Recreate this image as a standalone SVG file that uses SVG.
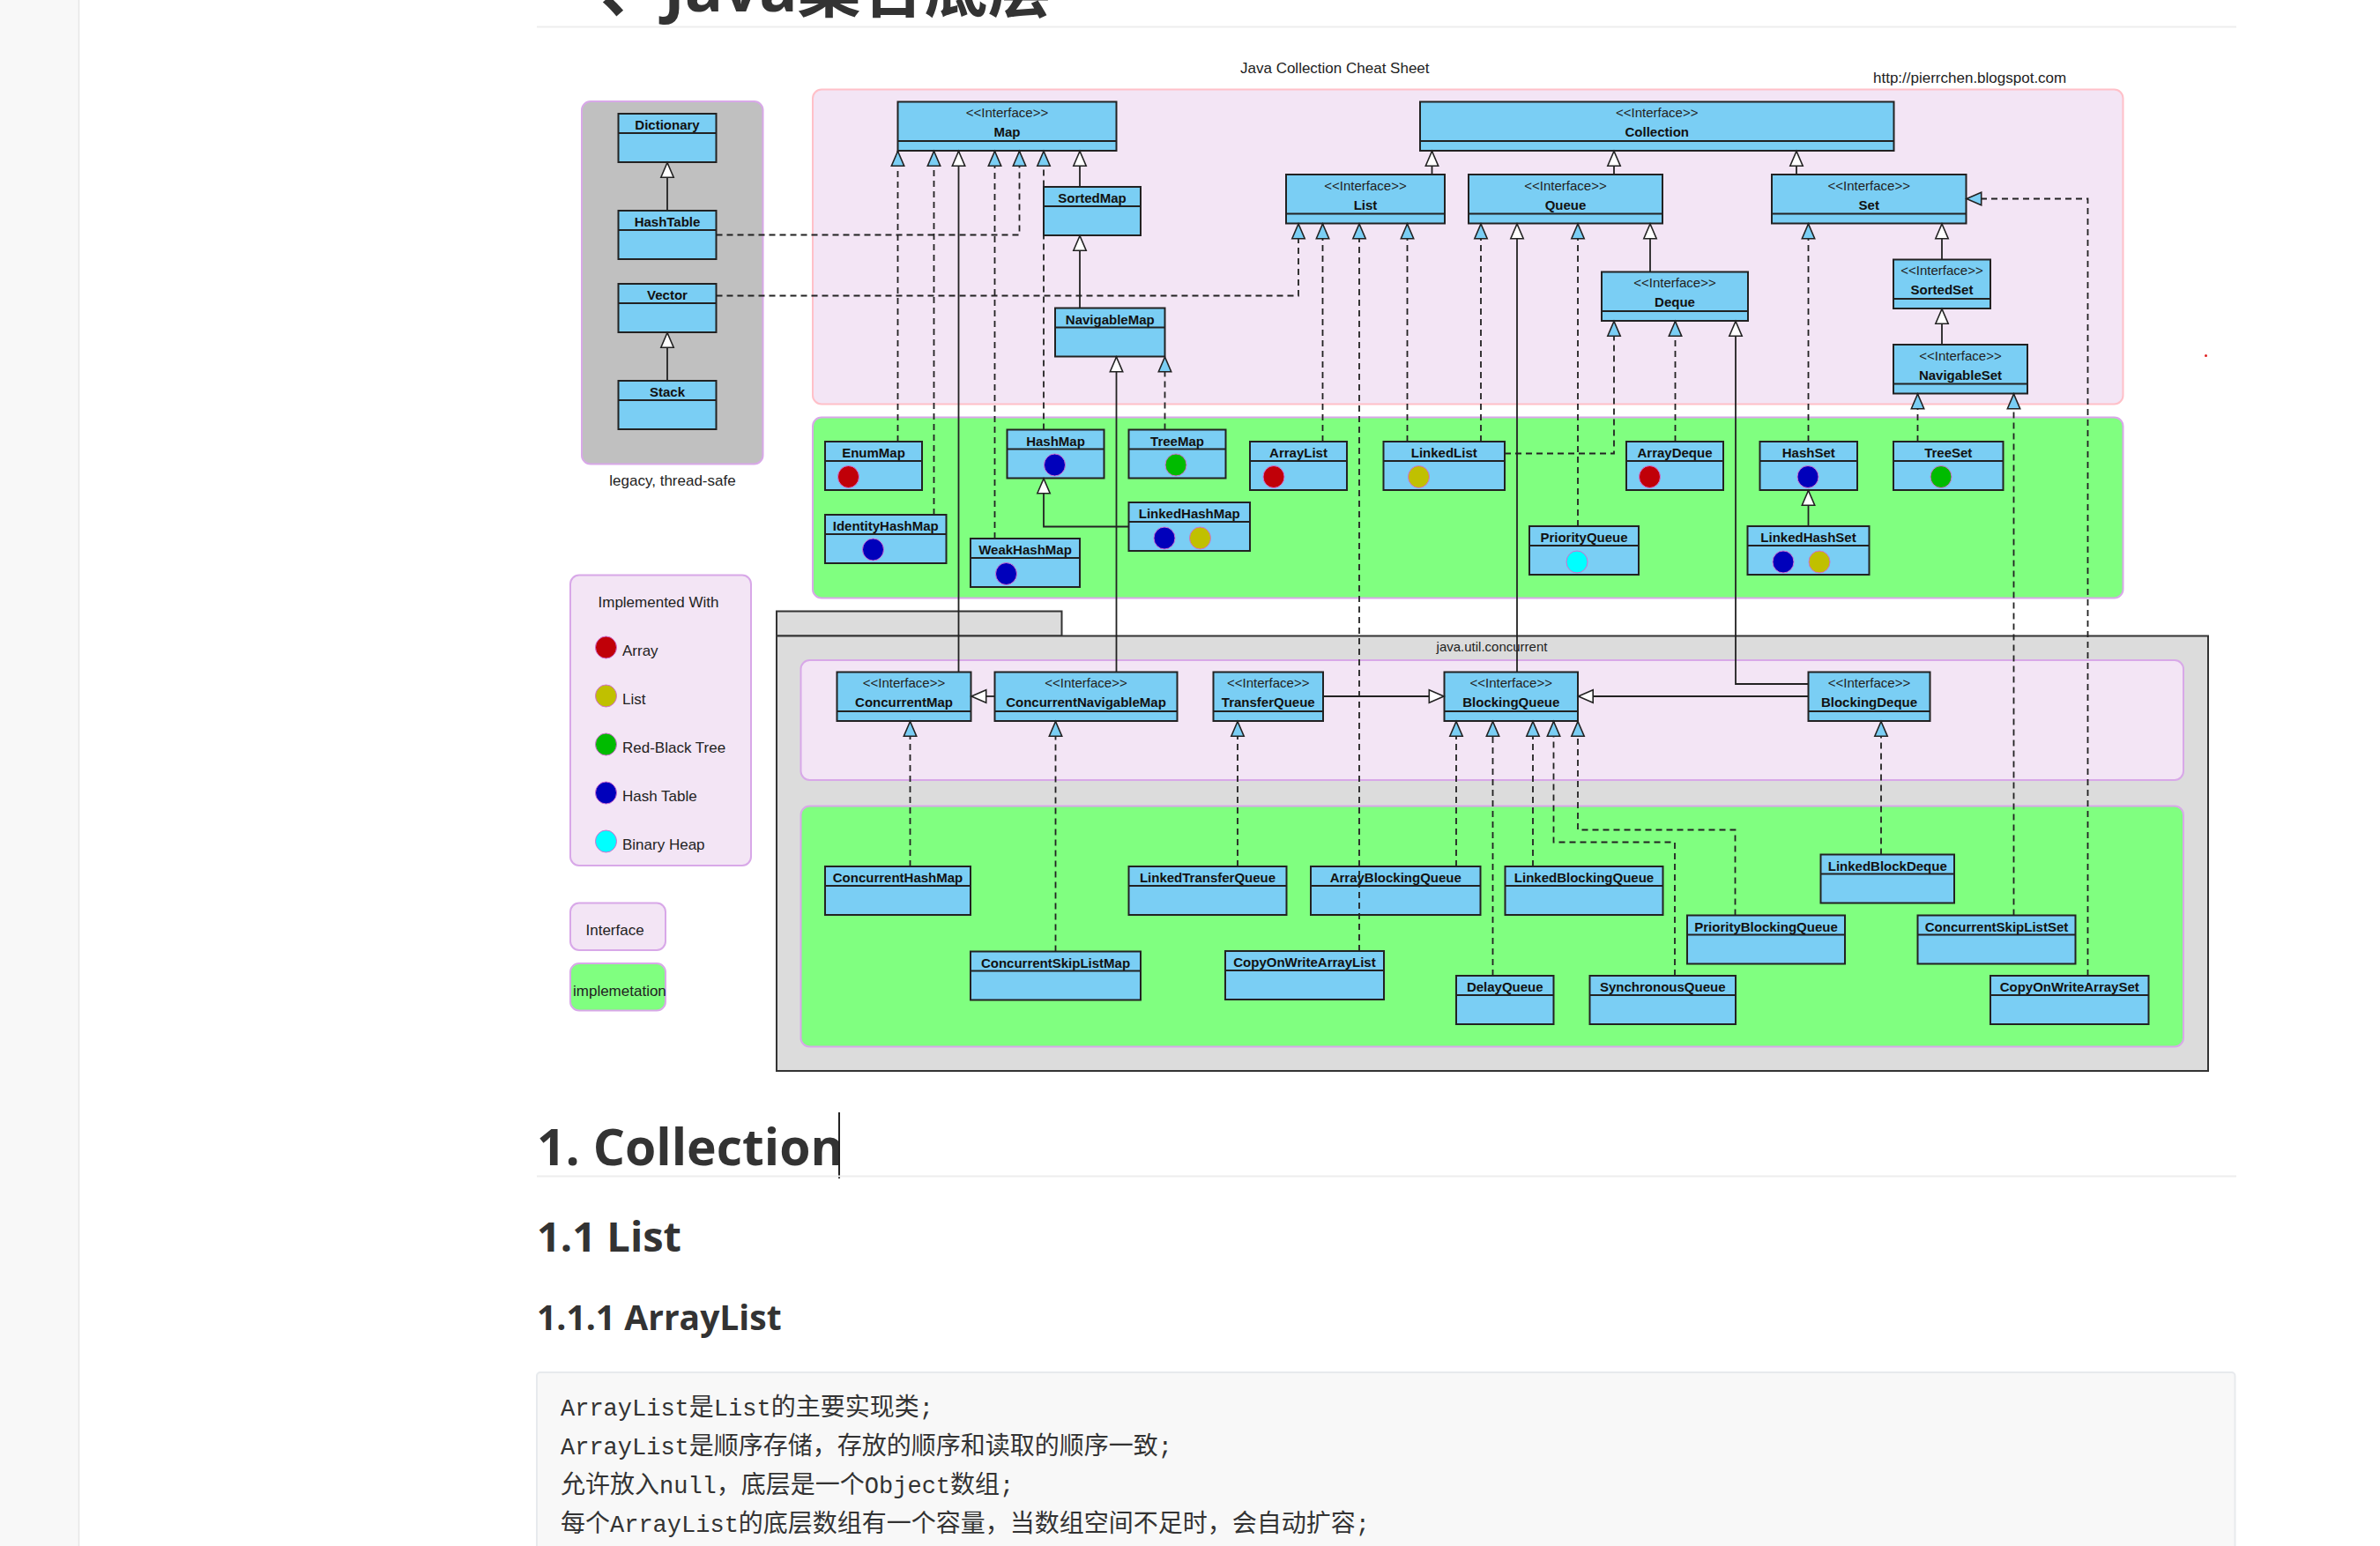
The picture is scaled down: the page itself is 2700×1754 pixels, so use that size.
<svg xmlns="http://www.w3.org/2000/svg" width="2700" height="1754" viewBox="0 0 2700 1754">
<defs>
<style>
.box{fill:#7acef4;stroke:#222;stroke-width:2}
.dv{stroke:#222;stroke-width:2}
.st{font-family:'Liberation Sans',Arial,sans-serif;font-size:15px;fill:#222;text-anchor:middle}
.nm{font-family:'Liberation Sans',Arial,sans-serif;font-size:15px;font-weight:bold;fill:#111;text-anchor:middle}
.lb{font-family:'Liberation Sans',Arial,sans-serif;font-size:17px;fill:#222}
.c{fill:none;stroke:#222;stroke-width:1.8}
.d{stroke-dasharray:7 5}
.dot{stroke:#d070d0;stroke-width:1}
.red{fill:#c00008}.yel{fill:#c0c000}.grn{fill:#00bb00}.blu{fill:#0000bb}.cyn{fill:#00ffff}
.h{font-family:'Open Sans','Noto Sans CJK SC',sans-serif;font-weight:bold;fill:#333}
.code{font-family:'Liberation Mono','Noto Sans CJK SC',monospace;font-size:27px;fill:#333}
.cj{font-family:'Noto Sans CJK SC',sans-serif;font-size:28px}
.iface{fill:#f3e5f5;stroke:#d8a8e8;stroke-width:2}
.impl{fill:#80ff80;stroke:#d8a8e8;stroke-width:2}
</style>
<marker id="mB" viewBox="0 0 18 16" refX="18" refY="8" markerWidth="18" markerHeight="16" markerUnits="userSpaceOnUse" orient="auto" overflow="visible">
<path d="M0.8,0.8 L17.5,8 L0.8,15.2 Z" fill="#7acef4" stroke="#222" stroke-width="1.6"/>
</marker>
<marker id="mW" viewBox="0 0 18 16" refX="18" refY="8" markerWidth="18" markerHeight="16" markerUnits="userSpaceOnUse" orient="auto" overflow="visible">
<path d="M0.8,0.8 L17.5,8 L0.8,15.2 Z" fill="#fff" stroke="#222" stroke-width="1.6"/>
</marker>
</defs>

<rect x="0" y="0" width="2700" height="1754" fill="#fff"/>
<g id="page">
<rect x="0" y="0" width="89" height="1754" fill="#f8f8f8"/>
<line x1="89.5" y1="0" x2="89.5" y2="1754" stroke="#e6e6e6" stroke-width="1.5"/>
<text class="h" x="681" y="13" font-size="72">、Java集合底层</text>
<line x1="609" y1="30.5" x2="2537" y2="30.5" stroke="#eee" stroke-width="2"/>
<text class="h" x="609" y="1322" font-size="57">1. Collection</text>
<line x1="952" y1="1262" x2="952" y2="1337" stroke="#222" stroke-width="2"/>
<line x1="609" y1="1334.5" x2="2537" y2="1334.5" stroke="#eee" stroke-width="2"/>
<text class="h" x="609" y="1420" font-size="47">1.1 List</text>
<text class="h" x="609" y="1509" font-size="39">1.1.1 ArrayList</text>
<rect x="609" y="1557" width="1926.5" height="220" rx="4" fill="#f8f8f8" stroke="#e7eaed" stroke-width="2"/>
<text class="code" x="636" y="1606">ArrayList<tspan class="cj">是</tspan>List<tspan class="cj">的主要实现类</tspan>;</text>
<text class="code" x="636" y="1650">ArrayList<tspan class="cj">是顺序存储，存放的顺序和读取的顺序一致</tspan>;</text>
<text class="code" x="636" y="1694"><tspan class="cj">允许放入</tspan>null<tspan class="cj">，底层是一个</tspan>Object<tspan class="cj">数组</tspan>;</text>
<text class="code" x="636" y="1738"><tspan class="cj">每个</tspan>ArrayList<tspan class="cj">的底层数组有一个容量，当数组空间不足时，会自动扩容</tspan>;</text>
</g>

<g id="regions">
<rect x="922" y="101.5" width="1486.5" height="357" rx="10" fill="#f3e5f5" stroke="#ffc0c8" stroke-width="2"/>
<rect class="impl" x="922" y="473.5" width="1486.5" height="205" rx="10"/>
<rect x="660" y="115" width="205.5" height="411.5" rx="10" fill="#c0c0c0" stroke="#d8a8e8" stroke-width="2"/>
<text class="lb" x="763" y="551" text-anchor="middle">legacy, thread-safe</text>
<rect class="iface" x="647" y="652.5" width="205" height="329.5" rx="10"/>
<text class="lb" x="747" y="689" text-anchor="middle">Implemented With</text>
<ellipse class="dot red" cx="687.5" cy="734.5" rx="12" ry="12.5"/>
<text class="lb" x="706" y="744">Array</text>
<ellipse class="dot yel" cx="687.5" cy="789.5" rx="12" ry="12.5"/>
<text class="lb" x="706" y="799">List</text>
<ellipse class="dot grn" cx="687.5" cy="844.5" rx="12" ry="12.5"/>
<text class="lb" x="706" y="854">Red-Black Tree</text>
<ellipse class="dot blu" cx="687.5" cy="899.5" rx="12" ry="12.5"/>
<text class="lb" x="706" y="909">Hash Table</text>
<ellipse class="dot cyn" cx="687.5" cy="954.5" rx="12" ry="12.5"/>
<text class="lb" x="706" y="964">Binary Heap</text>
<rect class="iface" x="647" y="1024.5" width="108" height="53.5" rx="10"/>
<text class="lb" x="664.5" y="1061">Interface</text>
<rect class="impl" x="647" y="1093" width="108" height="53.5" rx="10"/>
<text class="lb" x="650" y="1130">implemetation</text>
<text class="lb" x="1407" y="83">Java Collection Cheat Sheet</text>
<text class="lb" x="2125" y="94">http://pierrchen.blogspot.com</text>
<circle cx="2502.5" cy="403.5" r="1.5" fill="#e02020"/>
<rect x="881" y="693.5" width="323.5" height="28" fill="#dcdcdc" stroke="#333" stroke-width="2"/>
<rect x="881" y="721.5" width="1624" height="493.5" fill="#dcdcdc" stroke="#333" stroke-width="2"/>
<text x="1692.5" y="739" font-family="'Liberation Sans',Arial,sans-serif" font-size="15" fill="#222" text-anchor="middle">java.util.concurrent</text>
<rect class="iface" x="908.5" y="749" width="1568.5" height="136" rx="10"/>
<rect class="impl" x="908.5" y="914.5" width="1568.5" height="273" rx="10"/>
</g>

<g id="nodes">
<g id="n-map"><rect class="box" x="1018.5" y="115.5" width="248" height="55.5"/><line class="dv" x1="1018.5" y1="160" x2="1266.5" y2="160"/><text class="st" x="1142.5" y="133">&lt;&lt;Interface&gt;&gt;</text><text class="nm" x="1142.5" y="155">Map</text></g>
<g id="n-collection"><rect class="box" x="1611" y="115.5" width="537.5" height="55.5"/><line class="dv" x1="1611" y1="160" x2="2148.5" y2="160"/><text class="st" x="1879.75" y="133">&lt;&lt;Interface&gt;&gt;</text><text class="nm" x="1879.75" y="155">Collection</text></g>
<g id="n-list"><rect class="box" x="1459" y="198" width="180" height="55.5"/><line class="dv" x1="1459" y1="242.5" x2="1639" y2="242.5"/><text class="st" x="1549" y="215.5">&lt;&lt;Interface&gt;&gt;</text><text class="nm" x="1549" y="237.5">List</text></g>
<g id="n-queue"><rect class="box" x="1666" y="198" width="220" height="55.5"/><line class="dv" x1="1666" y1="242.5" x2="1886" y2="242.5"/><text class="st" x="1776" y="215.5">&lt;&lt;Interface&gt;&gt;</text><text class="nm" x="1776" y="237.5">Queue</text></g>
<g id="n-set"><rect class="box" x="2010" y="198" width="220.5" height="55.5"/><line class="dv" x1="2010" y1="242.5" x2="2230.5" y2="242.5"/><text class="st" x="2120.25" y="215.5">&lt;&lt;Interface&gt;&gt;</text><text class="nm" x="2120.25" y="237.5">Set</text></g>
<g id="n-deque"><rect class="box" x="1817" y="308.5" width="166" height="55.5"/><line class="dv" x1="1817" y1="353" x2="1983" y2="353"/><text class="st" x="1900" y="326">&lt;&lt;Interface&gt;&gt;</text><text class="nm" x="1900" y="348">Deque</text></g>
<g id="n-sortedset"><rect class="box" x="2148" y="294.5" width="110" height="55.5"/><line class="dv" x1="2148" y1="339" x2="2258" y2="339"/><text class="st" x="2203" y="312">&lt;&lt;Interface&gt;&gt;</text><text class="nm" x="2203" y="334">SortedSet</text></g>
<g id="n-navigableset"><rect class="box" x="2148" y="391" width="152" height="55.5"/><line class="dv" x1="2148" y1="435.5" x2="2300" y2="435.5"/><text class="st" x="2224" y="408.5">&lt;&lt;Interface&gt;&gt;</text><text class="nm" x="2224" y="430.5">NavigableSet</text></g>
<g id="n-concurrentmap"><rect class="box" x="949.5" y="762.5" width="152" height="55.5"/><line class="dv" x1="949.5" y1="807" x2="1101.5" y2="807"/><text class="st" x="1025.5" y="780">&lt;&lt;Interface&gt;&gt;</text><text class="nm" x="1025.5" y="802">ConcurrentMap</text></g>
<g id="n-concurrentnavigablemap"><rect class="box" x="1128.5" y="762.5" width="207" height="55.5"/><line class="dv" x1="1128.5" y1="807" x2="1335.5" y2="807"/><text class="st" x="1232" y="780">&lt;&lt;Interface&gt;&gt;</text><text class="nm" x="1232" y="802">ConcurrentNavigableMap</text></g>
<g id="n-transferqueue"><rect class="box" x="1376.5" y="762.5" width="124.5" height="55.5"/><line class="dv" x1="1376.5" y1="807" x2="1501" y2="807"/><text class="st" x="1438.75" y="780">&lt;&lt;Interface&gt;&gt;</text><text class="nm" x="1438.75" y="802">TransferQueue</text></g>
<g id="n-blockingqueue"><rect class="box" x="1638.5" y="762.5" width="151.5" height="55.5"/><line class="dv" x1="1638.5" y1="807" x2="1790" y2="807"/><text class="st" x="1714.25" y="780">&lt;&lt;Interface&gt;&gt;</text><text class="nm" x="1714.25" y="802">BlockingQueue</text></g>
<g id="n-blockingdeque"><rect class="box" x="2051.5" y="762.5" width="138" height="55.5"/><line class="dv" x1="2051.5" y1="807" x2="2189.5" y2="807"/><text class="st" x="2120.5" y="780">&lt;&lt;Interface&gt;&gt;</text><text class="nm" x="2120.5" y="802">BlockingDeque</text></g>

<g id="n-sortedmap"><rect class="box" x="1184" y="212" width="110" height="55"/><line class="dv" x1="1184" y1="234" x2="1294" y2="234"/><text class="nm" x="1239" y="230">SortedMap</text></g>
<g id="n-navigablemap"><rect class="box" x="1197" y="349.5" width="124.5" height="55"/><line class="dv" x1="1197" y1="371.5" x2="1321.5" y2="371.5"/><text class="nm" x="1259.25" y="367.5">NavigableMap</text></g>
<g id="n-dictionary"><rect class="box" x="701.5" y="129" width="111" height="55"/><line class="dv" x1="701.5" y1="151" x2="812.5" y2="151"/><text class="nm" x="757" y="147">Dictionary</text></g>
<g id="n-hashtable"><rect class="box" x="701.5" y="239" width="111" height="55"/><line class="dv" x1="701.5" y1="261" x2="812.5" y2="261"/><text class="nm" x="757" y="257">HashTable</text></g>
<g id="n-vector"><rect class="box" x="701.5" y="322" width="111" height="55"/><line class="dv" x1="701.5" y1="344" x2="812.5" y2="344"/><text class="nm" x="757" y="340">Vector</text></g>
<g id="n-stack"><rect class="box" x="701.5" y="432" width="111" height="55"/><line class="dv" x1="701.5" y1="454" x2="812.5" y2="454"/><text class="nm" x="757" y="450">Stack</text></g>
<g id="n-enummap"><rect class="box" x="936" y="501" width="110" height="55"/><line class="dv" x1="936" y1="523" x2="1046" y2="523"/><text class="nm" x="991" y="519">EnumMap</text><ellipse class="dot red" cx="962.5" cy="541" rx="12" ry="12.5"/></g>
<g id="n-identityhashmap"><rect class="box" x="936" y="584" width="137.5" height="55"/><line class="dv" x1="936" y1="606" x2="1073.5" y2="606"/><text class="nm" x="1004.75" y="602">IdentityHashMap</text><ellipse class="dot blu" cx="990.5" cy="623.5" rx="12" ry="12.5"/></g>
<g id="n-weakhashmap"><rect class="box" x="1101" y="611" width="124" height="55"/><line class="dv" x1="1101" y1="633" x2="1225" y2="633"/><text class="nm" x="1163" y="629">WeakHashMap</text><ellipse class="dot blu" cx="1141.5" cy="651" rx="12" ry="12.5"/></g>
<g id="n-hashmap"><rect class="box" x="1142.5" y="487.5" width="110" height="55"/><line class="dv" x1="1142.5" y1="509.5" x2="1252.5" y2="509.5"/><text class="nm" x="1197.5" y="505.5">HashMap</text><ellipse class="dot blu" cx="1196.5" cy="527.5" rx="12" ry="12.5"/></g>
<g id="n-treemap"><rect class="box" x="1280.5" y="487.5" width="110" height="55"/><line class="dv" x1="1280.5" y1="509.5" x2="1390.5" y2="509.5"/><text class="nm" x="1335.5" y="505.5">TreeMap</text><ellipse class="dot grn" cx="1334" cy="527.5" rx="12" ry="12.5"/></g>
<g id="n-linkedhashmap"><rect class="box" x="1280.5" y="570" width="137.5" height="55"/><line class="dv" x1="1280.5" y1="592" x2="1418" y2="592"/><text class="nm" x="1349.25" y="588">LinkedHashMap</text><ellipse class="dot blu" cx="1321" cy="610.5" rx="12" ry="12.5"/><ellipse class="dot yel" cx="1361.5" cy="610.5" rx="12" ry="12.5"/></g>
<g id="n-arraylist"><rect class="box" x="1418" y="501" width="110" height="55"/><line class="dv" x1="1418" y1="523" x2="1528" y2="523"/><text class="nm" x="1473" y="519">ArrayList</text><ellipse class="dot red" cx="1445" cy="541" rx="12" ry="12.5"/></g>
<g id="n-linkedlist"><rect class="box" x="1569.5" y="501" width="137.5" height="55"/><line class="dv" x1="1569.5" y1="523" x2="1707" y2="523"/><text class="nm" x="1638.25" y="519">LinkedList</text><ellipse class="dot yel" cx="1609.5" cy="541" rx="12" ry="12.5"/></g>
<g id="n-arraydeque"><rect class="box" x="1845" y="501" width="110" height="55"/><line class="dv" x1="1845" y1="523" x2="1955" y2="523"/><text class="nm" x="1900" y="519">ArrayDeque</text><ellipse class="dot red" cx="1871.5" cy="541" rx="12" ry="12.5"/></g>
<g id="n-priorityqueue"><rect class="box" x="1735" y="597" width="124" height="55"/><line class="dv" x1="1735" y1="619" x2="1859" y2="619"/><text class="nm" x="1797" y="615">PriorityQueue</text><ellipse class="dot cyn" cx="1789" cy="637.5" rx="12" ry="12.5"/></g>
<g id="n-hashset"><rect class="box" x="1996.5" y="501" width="110.5" height="55"/><line class="dv" x1="1996.5" y1="523" x2="2107" y2="523"/><text class="nm" x="2051.75" y="519">HashSet</text><ellipse class="dot blu" cx="2051" cy="541" rx="12" ry="12.5"/></g>
<g id="n-linkedhashset"><rect class="box" x="1982.5" y="597" width="138" height="55"/><line class="dv" x1="1982.5" y1="619" x2="2120.5" y2="619"/><text class="nm" x="2051.5" y="615">LinkedHashSet</text><ellipse class="dot blu" cx="2023" cy="637.5" rx="12" ry="12.5"/><ellipse class="dot yel" cx="2064" cy="637.5" rx="12" ry="12.5"/></g>
<g id="n-treeset"><rect class="box" x="2148" y="501" width="124.5" height="55"/><line class="dv" x1="2148" y1="523" x2="2272.5" y2="523"/><text class="nm" x="2210.25" y="519">TreeSet</text><ellipse class="dot grn" cx="2202" cy="541" rx="12" ry="12.5"/></g>
<g id="n-concurrenthashmap"><rect class="box" x="936" y="983" width="165" height="55"/><line class="dv" x1="936" y1="1005" x2="1101" y2="1005"/><text class="nm" x="1018.5" y="1001">ConcurrentHashMap</text></g>
<g id="n-concurrentskiplistmap"><rect class="box" x="1101" y="1079.5" width="193" height="55"/><line class="dv" x1="1101" y1="1101.5" x2="1294" y2="1101.5"/><text class="nm" x="1197.5" y="1097.5">ConcurrentSkipListMap</text></g>
<g id="n-linkedtransferqueue"><rect class="box" x="1280.5" y="983" width="179" height="55"/><line class="dv" x1="1280.5" y1="1005" x2="1459.5" y2="1005"/><text class="nm" x="1370" y="1001">LinkedTransferQueue</text></g>
<g id="n-arrayblockingqueue"><rect class="box" x="1487" y="983" width="192.5" height="55"/><line class="dv" x1="1487" y1="1005" x2="1679.5" y2="1005"/><text class="nm" x="1583.25" y="1001">ArrayBlockingQueue</text></g>
<g id="n-linkedblockingqueue"><rect class="box" x="1707.5" y="983" width="179" height="55"/><line class="dv" x1="1707.5" y1="1005" x2="1886.5" y2="1005"/><text class="nm" x="1797" y="1001">LinkedBlockingQueue</text></g>
<g id="n-copyonwritearraylist"><rect class="box" x="1390" y="1079" width="180" height="55"/><line class="dv" x1="1390" y1="1101" x2="1570" y2="1101"/><text class="nm" x="1480" y="1097">CopyOnWriteArrayList</text></g>
<g id="n-delayqueue"><rect class="box" x="1652" y="1107" width="110.5" height="55"/><line class="dv" x1="1652" y1="1129" x2="1762.5" y2="1129"/><text class="nm" x="1707.25" y="1125">DelayQueue</text></g>
<g id="n-synchronousqueue"><rect class="box" x="1803.5" y="1107" width="165.5" height="55"/><line class="dv" x1="1803.5" y1="1129" x2="1969" y2="1129"/><text class="nm" x="1886.25" y="1125">SynchronousQueue</text></g>
<g id="n-priorityblockingqueue"><rect class="box" x="1914" y="1038.5" width="179" height="55"/><line class="dv" x1="1914" y1="1060.5" x2="2093" y2="1060.5"/><text class="nm" x="2003.5" y="1056.5">PriorityBlockingQueue</text></g>
<g id="n-linkedblockdeque"><rect class="box" x="2065.5" y="969.5" width="151.5" height="55"/><line class="dv" x1="2065.5" y1="991.5" x2="2217" y2="991.5"/><text class="nm" x="2141.25" y="987.5">LinkedBlockDeque</text></g>
<g id="n-concurrentskiplistset"><rect class="box" x="2175.5" y="1038.5" width="179" height="55"/><line class="dv" x1="2175.5" y1="1060.5" x2="2354.5" y2="1060.5"/><text class="nm" x="2265" y="1056.5">ConcurrentSkipListSet</text></g>
<g id="n-copyonwritearrayset"><rect class="box" x="2258" y="1107" width="179.5" height="55"/><line class="dv" x1="2258" y1="1129" x2="2437.5" y2="1129"/><text class="nm" x="2347.75" y="1125">CopyOnWriteArraySet</text></g>
</g>

<g id="connectors">
<path class="c d" marker-end="url(#mB)" d="M1018.5,501 V171"/>
<path class="c d" marker-end="url(#mB)" d="M1059.5,584 V171"/>
<path class="c" marker-end="url(#mW)" d="M1087.5,762.5 V171"/>
<path class="c d" marker-end="url(#mB)" d="M1128.5,611 V171"/>
<path class="c d" marker-end="url(#mB)" d="M812.5,266.5 H1156.5 V171"/>
<path class="c d" marker-end="url(#mB)" d="M1184,487.5 V171"/>
<path class="c" marker-end="url(#mW)" d="M1225,212 V171"/>
<path class="c" marker-end="url(#mW)" d="M1225,349.5 V267"/>
<path class="c" marker-end="url(#mW)" d="M1266.5,762.5 V404.5"/>
<path class="c d" marker-end="url(#mB)" d="M1321.5,487.5 V404.5"/>
<path class="c" marker-end="url(#mW)" d="M1624.5,198 V171"/>
<path class="c" marker-end="url(#mW)" d="M1831,198 V171"/>
<path class="c" marker-end="url(#mW)" d="M2038,198 V171"/>
<path class="c d" marker-end="url(#mB)" d="M812.5,335.5 H1473 V253.5"/>
<path class="c d" marker-end="url(#mB)" d="M1500.5,501 V253.5"/>
<path class="c d" marker-end="url(#mB)" d="M1542,1079 V253.5"/>
<path class="c d" marker-end="url(#mB)" d="M1596.5,501 V253.5"/>
<path class="c d" marker-end="url(#mB)" d="M1680,501 V253.5"/>
<path class="c" marker-end="url(#mW)" d="M1721,762.5 V253.5"/>
<path class="c d" marker-end="url(#mB)" d="M1790,597 V253.5"/>
<path class="c" marker-end="url(#mW)" d="M1872,308.5 V253.5"/>
<path class="c d" marker-end="url(#mB)" d="M1707,514.5 H1831 V364"/>
<path class="c d" marker-end="url(#mB)" d="M1900.5,501 V364"/>
<path class="c" marker-end="url(#mW)" d="M2051.5,776 H1969 V364"/>
<path class="c d" marker-end="url(#mB)" d="M2051.5,501 V253.5"/>
<path class="c" marker-end="url(#mW)" d="M2203,294.5 V253.5"/>
<path class="c d" marker-end="url(#mB)" d="M2368.5,1107 V225.5 H2230.5"/>
<path class="c" marker-end="url(#mW)" d="M2203,391 V350"/>
<path class="c d" marker-end="url(#mB)" d="M2175.5,501 V446.5"/>
<path class="c d" marker-end="url(#mB)" d="M2284.5,1038.5 V446.5"/>
<path class="c" marker-end="url(#mW)" d="M1280.5,597.5 H1184 V542.5"/>
<path class="c" marker-end="url(#mW)" d="M2051.5,597 V556"/>
<path class="c" marker-end="url(#mW)" d="M757,239 V184"/>
<path class="c" marker-end="url(#mW)" d="M757,432 V377"/>
<path class="c" marker-end="url(#mW)" d="M1128.5,790 H1101.5"/>
<path class="c d" marker-end="url(#mB)" d="M1032.5,983 V818"/>
<path class="c d" marker-end="url(#mB)" d="M1197.5,1079.5 V818"/>
<path class="c d" marker-end="url(#mB)" d="M1404,983 V818"/>
<path class="c" marker-end="url(#mW)" d="M1501,790 H1638.5"/>
<path class="c" marker-end="url(#mW)" d="M2051.5,790 H1790"/>
<path class="c d" marker-end="url(#mB)" d="M1652,983 V818"/>
<path class="c d" marker-end="url(#mB)" d="M1693.5,1107 V818"/>
<path class="c d" marker-end="url(#mB)" d="M1739,983 V818"/>
<path class="c d" marker-end="url(#mB)" d="M1900,1107 V955.5 H1762.5 V818"/>
<path class="c d" marker-end="url(#mB)" d="M1968.5,1038.5 V941.5 H1790 V818"/>
<path class="c d" marker-end="url(#mB)" d="M2134,969.5 V818"/>
</g>
</svg>
